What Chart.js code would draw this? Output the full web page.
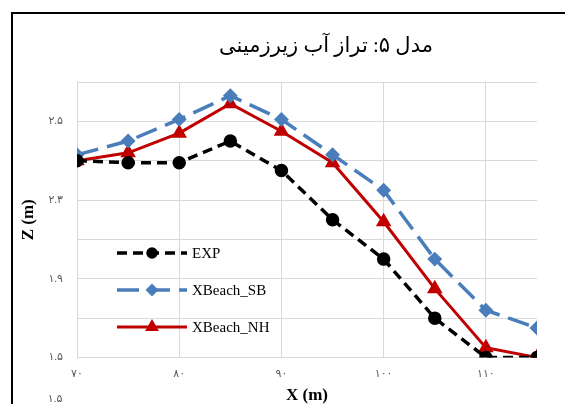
<!DOCTYPE html>
<html>
<head>
<meta charset="utf-8">
<script src="https://cdn.jsdelivr.net/npm/chart.js@4/dist/chart.umd.min.js"></script>
<style>
  body { margin: 0; background: #fff; }
  canvas { display: block; }
</style>
</head>
<body>
<canvas id="chart" width="565" height="404"></canvas>
<script>
'use strict';

// data
let xValues = [70, 75, 80, 85, 90, 95, 100, 105, 110, 115];
let expValues = [2.50, 2.49, 2.49, 2.60, 2.45, 2.20, 2.00, 1.70, 1.50, 1.50];
let sbValues = [2.53, 2.60, 2.71, 2.83, 2.71, 2.53, 2.35, 2.00, 1.74, 1.65];
let nhValues = [2.50, 2.54, 2.64, 2.79, 2.65, 2.49, 2.19, 1.85, 1.55, 1.50];

let xTicks = [70, 80, 90, 100, 110];
let xTickLabels = ['۷۰', '۸۰', '۹۰', '۱۰۰', '۱۱۰'];
let yTickLabels = ['۱.۵', '', '۱.۹', '', '۲.۳', '', '۲.۵', ''];

let seriesNames = ['EXP', 'XBeach_SB', 'XBeach_NH'];
let chartTitle = 'مدل ۵: تراز آب زیرزمینی';

function toPoints(values) {
  return values.map((v, i) => ({ x: xValues[i], y: v }));
}

let tickFont = { family: "'Liberation Serif', 'DejaVu Sans'", size: 11 };
let axisTitleFont = { family: "'Liberation Serif'", size: 17, weight: 'bold' };

// title, legend inside the plot, frame lines
let decorPlugin = {
  id: 'decor',
  afterDraw(chart) {
    let ctx = chart.ctx;
    let area = chart.chartArea;
    ctx.save();

    // frame
    ctx.strokeStyle = '#000';
    ctx.lineWidth = 2;
    ctx.beginPath();
    ctx.moveTo(12, 404);
    ctx.lineTo(12, 13);
    ctx.lineTo(565, 13);
    ctx.stroke();

    // title
    ctx.fillStyle = '#000';
    ctx.font = "21px 'Liberation Serif', 'DejaVu Sans'";
    ctx.textAlign = 'center';
    ctx.textBaseline = 'middle';
    ctx.fillText(chartTitle, 326, 46);

    // stray label under the axis
    ctx.fillStyle = '#595959';
    ctx.font = "11px 'Liberation Serif', 'DejaVu Sans'";
    ctx.fillText('۱.۵', 55, 399);

    // legend
    let x0 = area.left + 40;
    let x1 = area.left + 110;
    chart.data.datasets.forEach((ds, i) => {
      let y = 253 + i * 37;
      ctx.strokeStyle = ds.borderColor;
      ctx.lineWidth = ds.borderWidth;
      ctx.setLineDash(ds.borderDash || []);
      ctx.beginPath();
      ctx.moveTo(x0, y);
      ctx.lineTo(x1, y);
      ctx.stroke();
      ctx.setLineDash([]);
      ctx.fillStyle = ds.borderColor;
      Chart.helpers.drawPoint(ctx, {
        pointStyle: ds.pointStyle,
        radius: ds.pointRadius - 1,
        borderWidth: 1
      }, (x0 + x1) / 2, y);
      ctx.fillStyle = '#000';
      ctx.font = "15px 'Liberation Serif'";
      ctx.textAlign = 'left';
      ctx.fillText(ds.label, x1 + 5, y + 1);
    });
    ctx.restore();
  }
};

let chartConfig = {
  type: 'line',
  data: {
    datasets: [
      {
        label: seriesNames[0],
        data: toPoints(expValues),
        borderColor: '#000000',
        backgroundColor: '#000000',
        borderWidth: 3.5,
        borderDash: [10, 6],
        pointStyle: 'circle',
        pointRadius: 5,
        pointBackgroundColor: '#000000',
        pointBorderColor: '#000000',
      },
      {
        label: seriesNames[1],
        data: toPoints(sbValues),
        borderColor: '#4a7ebb',
        backgroundColor: '#4a7ebb',
        borderWidth: 3.5,
        borderDash: [22, 9],
        pointStyle: 'rectRot',
        pointRadius: 5,
        pointBackgroundColor: '#4a7ebb',
        pointBorderColor: '#4a7ebb',
      },
      {
        label: seriesNames[2],
        data: toPoints(nhValues),
        borderColor: '#c00000',
        backgroundColor: '#c00000',
        borderWidth: 3,
        pointStyle: 'triangle',
        pointRadius: 6,
        pointBackgroundColor: '#c00000',
        pointBorderColor: '#c00000',
      },
    ],
  },
  options: {
    responsive: false,
    animation: false,
    devicePixelRatio: 1,
    layout: {
      padding: { left: 12, top: 82, right: 28, bottom: 0 },
    },
    plugins: {
      legend: { display: false },
      title: { display: false },
      tooltip: { enabled: false },
    },
    scales: {
      x: {
        type: 'linear',
        min: 70,
        max: 115,
        afterBuildTicks(scale) {
          scale.ticks = xTicks.map(v => ({ value: v }));
        },
        afterFit(scale) {
          scale.height = 46.5;
        },
        border: { display: false },
        grid: { color: '#d9d9d9', lineWidth: 1, drawTicks: false },
        ticks: {
          padding: 10,
          color: '#595959',
          font: tickFont,
          maxRotation: 0,
          autoSkip: false,
          callback: (value, index) => xTickLabels[index],
        },
        title: {
          display: true,
          text: 'X (m)',
          color: '#000',
          font: axisTitleFont,
          padding: { top: 0, bottom: -2 },
        },
      },
      y: {
        type: 'linear',
        min: 1.5,
        max: 2.9,
        afterFit(scale) {
          scale.width = 65;
        },
        border: { display: false },
        grid: { color: '#d9d9d9', lineWidth: 1, drawTicks: false },
        ticks: {
          stepSize: 0.2,
          padding: 14,
          color: '#595959',
          font: tickFont,
          autoSkip: false,
          callback: (value, index) => yTickLabels[index],
        },
        title: {
          display: true,
          text: 'Z (m)',
          color: '#000',
          font: axisTitleFont,
          padding: { top: 6, bottom: 0 },
        },
      },
    },
  },
  plugins: [decorPlugin],
};

let chart = new Chart(document.getElementById('chart'), chartConfig);
</script>
</body>
</html>
